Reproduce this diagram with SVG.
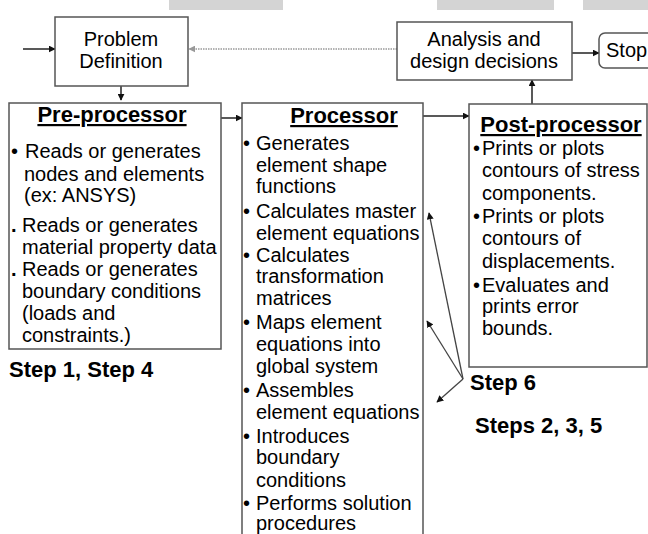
<svg xmlns="http://www.w3.org/2000/svg" width="648" height="534" viewBox="0 0 648 534">
<defs>
<style>
.box{fill:#fff;stroke:#555;stroke-width:1.5}
.t{font-family:"Liberation Sans",Arial,sans-serif;font-size:20px;fill:#000}
.c{text-anchor:middle}
.b{font-weight:bold}
.h{font-family:"Liberation Sans",Arial,sans-serif;font-size:22px;font-weight:bold;fill:#000;text-anchor:middle;text-decoration:underline}
.s{font-family:"Liberation Sans",Arial,sans-serif;font-size:22px;font-weight:bold;fill:#000}
.ln{fill:none;stroke:#222;stroke-width:1.5}
.ln2{fill:none;stroke:#444;stroke-width:1.3}
.dot{fill:none;stroke:#999;stroke-width:1.5;stroke-dasharray:1.5 1}
.bar{fill:#d4d4d4}
</style>
<marker id="a" viewBox="0 0 10 10" refX="9" refY="5" markerWidth="7" markerHeight="7" orient="auto" markerUnits="userSpaceOnUse">
<path d="M0,0 L10,5 L0,10 z" fill="#111"/>
</marker>
<marker id="ag" viewBox="0 0 10 10" refX="9" refY="5" markerWidth="7" markerHeight="7" orient="auto" markerUnits="userSpaceOnUse">
<path d="M0,0 L10,5 L0,10 z" fill="#999"/>
</marker>
</defs>
<rect width="648" height="534" fill="#fff"/>
<rect class="bar" x="169" y="0" width="114" height="10"/>
<rect class="bar" x="437" y="0" width="117" height="10"/>
<rect class="bar" x="583" y="0" width="65" height="10"/>

<g id="connectors">
<line class="ln" x1="23" y1="49" x2="55" y2="49" marker-end="url(#a)"/>
<line class="dot" x1="397" y1="49" x2="189" y2="49" marker-end="url(#ag)"/>
<line class="ln" x1="121" y1="86" x2="121" y2="100" marker-end="url(#a)"/>
<line class="ln" x1="572" y1="53" x2="599" y2="53" marker-end="url(#a)"/>
<line class="ln" x1="532" y1="104" x2="532" y2="80" marker-end="url(#a)"/>
<line class="ln" x1="221" y1="118" x2="242" y2="118" marker-end="url(#a)"/>
<line class="ln" x1="423" y1="116" x2="469" y2="116" marker-end="url(#a)"/>
<line class="ln2" x1="463" y1="379" x2="429" y2="213" marker-end="url(#a)"/>
<line class="ln2" x1="463" y1="379" x2="427" y2="321" marker-end="url(#a)"/>
<line class="ln2" x1="463" y1="379" x2="437" y2="402" marker-end="url(#a)"/>
</g>

<g id="problem-definition">
<rect class="box" x="55" y="17" width="133" height="69"/>
<text class="t c" x="121" y="46">Problem</text>
<text class="t c" x="121" y="68">Definition</text>
</g>

<g id="analysis">
<rect class="box" x="397" y="22" width="175" height="58"/>
<text class="t c" x="484" y="46">Analysis and</text>
<text class="t c" x="484" y="68">design decisions</text>
</g>

<g id="stop">
<rect class="box" x="599" y="33" width="60" height="35" rx="6"/>
<text class="t" x="606" y="57">Stop</text>
</g>

<g id="pre-processor">
<rect class="box" x="9" y="103" width="212" height="246"/>
<text class="h" x="112" y="122">Pre-processor</text>
<text class="t" x="11" y="158">•</text>
<text class="t" x="25" y="158">Reads or generates</text>
<text class="t" x="24" y="181">nodes and elements</text>
<text class="t" x="24" y="202">(ex: ANSYS)</text>
<text class="t b" x="11" y="232">.</text>
<text class="t" x="22" y="232">Reads or generates</text>
<text class="t" x="22" y="254">material property data</text>
<text class="t b" x="11" y="276">.</text>
<text class="t" x="22" y="276">Reads or generates</text>
<text class="t" x="22" y="298">boundary conditions</text>
<text class="t" x="22" y="320">(loads and</text>
<text class="t" x="22" y="342">constraints.)</text>
</g>

<g id="processor">
<rect class="box" x="242" y="103" width="181" height="440"/>
<text class="h" x="344" y="123">Processor</text>
<g class="t">
<text x="243" y="150">•</text><text x="256" y="150">Generates</text>
<text x="256" y="172">element shape</text>
<text x="256" y="193">functions</text>
<text x="243" y="218">•</text><text x="256" y="218">Calculates master</text>
<text x="256" y="240">element equations</text>
<text x="243" y="262">•</text><text x="256" y="262">Calculates</text>
<text x="256" y="283">transformation</text>
<text x="256" y="305">matrices</text>
<text x="243" y="329">•</text><text x="256" y="329">Maps element</text>
<text x="256" y="351">equations into</text>
<text x="256" y="373">global system</text>
<text x="243" y="397">•</text><text x="256" y="397">Assembles</text>
<text x="256" y="419">element equations</text>
<text x="243" y="443">•</text><text x="256" y="443">Introduces</text>
<text x="256" y="464">boundary</text>
<text x="256" y="487">conditions</text>
<text x="243" y="510">•</text><text x="256" y="510">Performs solution</text>
<text x="256" y="530">procedures</text>
</g>
</g>

<g id="post-processor">
<rect class="box" x="469" y="104" width="178" height="263"/>
<text class="h" x="561" y="132">Post-processor</text>
<g class="t">
<text x="473" y="155">•</text><text x="482" y="155">Prints or plots</text>
<text x="482" y="177">contours of stress</text>
<text x="482" y="200">components.</text>
<text x="473" y="223">•</text><text x="482" y="223">Prints or plots</text>
<text x="482" y="245">contours of</text>
<text x="482" y="268">displacements.</text>
<text x="473" y="292">•</text><text x="482" y="292">Evaluates and</text>
<text x="482" y="313">prints error</text>
<text x="482" y="335">bounds.</text>
</g>
</g>

<g id="labels">
<text class="s" x="9" y="377">Step 1, Step 4</text>
<text class="s" x="470" y="390">Step 6</text>
<text class="s" x="475" y="433">Steps 2, 3, 5</text>
</g>
</svg>
